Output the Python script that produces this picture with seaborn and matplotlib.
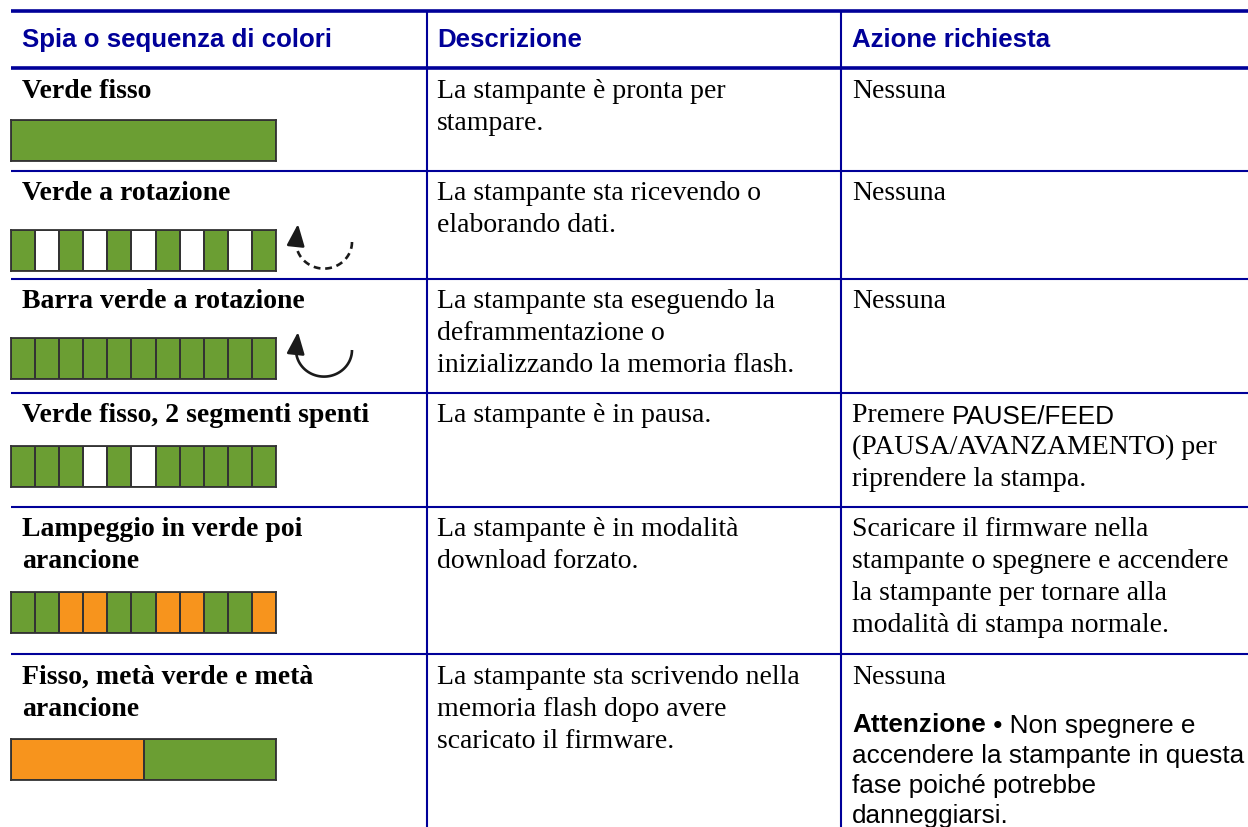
import numpy as np
import matplotlib
matplotlib.use("Agg")
import matplotlib.pyplot as plt
from matplotlib.colors import ListedColormap
import seaborn as sns

# table content
header_labels = ["Spia o sequenza di colori", "Descrizione", "Azione richiesta"]

spia_labels = [
    ["Verde fisso"],
    ["Verde a rotazione"],
    ["Barra verde a rotazione"],
    ["Verde fisso, 2 segmenti spenti"],
    ["Lampeggio in verde poi", "arancione"],
    ["Fisso, metà verde e metà", "arancione"],
]

descrizione = [
    ["La stampante è pronta per", "stampare."],
    ["La stampante sta ricevendo o", "elaborando dati."],
    ["La stampante sta eseguendo la", "deframmentazione o",
     "inizializzando la memoria flash."],
    ["La stampante è in pausa."],
    ["La stampante è in modalità", "download forzato."],
    ["La stampante sta scrivendo nella", "memoria flash dopo avere",
     "scaricato il firmware."],
]

# each line is a list of (text, style) pieces; serif / sans / sansbold
azione = [
    [[("Nessuna", "serif")]],
    [[("Nessuna", "serif")]],
    [[("Nessuna", "serif")]],
    [[("Premere ", "serif"), ("PAUSE/FEED", "sans")],
     [("(PAUSA/AVANZAMENTO) per", "serif")],
     [("riprendere la stampa.", "serif")]],
    [[("Scaricare il firmware nella", "serif")],
     [("stampante o spegnere e accendere", "serif")],
     [("la stampante per tornare alla", "serif")],
     [("modalità di stampa normale.", "serif")]],
    [[("Nessuna", "serif")]],
]
azione_note = [("Attenzione", "sansbold"), (" • Non spegnere e", "sans")]
azione_note_lines = ["accendere la stampante in questa", "fase poiché potrebbe",
                     "danneggiarsi."]

# LED segments: 0 = spento, 1 = verde, 2 = arancione
led_patterns = [
    [1],
    [1, 0, 1, 0, 1, 0, 1, 0, 1, 0, 1],
    [1, 1, 1, 1, 1, 1, 1, 1, 1, 1, 1],
    [1, 1, 1, 0, 1, 0, 1, 1, 1, 1, 1],
    [1, 1, 2, 2, 1, 1, 2, 2, 1, 1, 2],
    [2, 1],
]
rotation = [None, "dashed", "solid", None, None, None]

# layout (pixels)
W, H = 1248, 827
row_edges = [11, 68, 171, 279, 393, 507, 654]
col_x = [11, 427, 841]
text_x = [22, 437, 852]
bar_top = [120, 230, 338, 446, 592, 739]
bar_h = 41
bar_x0, bar_x1 = 11, 276
line_blue = "#000099"
green = "#6b9e33"
orange = "#f7941d"
edge = "#333333"

SERIF = "Liberation Serif"
SANS = "Liberation Sans"
FS_SERIF = 20
FS_SANS = 18.8
FS_HEAD = 18.6

sns.set_theme(style="white")
plt.rcParams["font.family"] = [SANS, "DejaVu Sans"]
plt.rcParams["text.color"] = "black"

fig = plt.figure(figsize=(W / 100, H / 100), dpi=100)
ax = fig.add_axes([0, 0, 1, 1])
ax.set_xlim(0, W)
ax.set_ylim(H, 0)
ax.axis("off")

# grid lines
ax.hlines([row_edges[0], row_edges[1]], col_x[0], W, color=line_blue, lw=2.6)
ax.hlines(row_edges[2:], col_x[0], W, color=line_blue, lw=1.5)
ax.vlines(col_x[1:], row_edges[0], H, color=line_blue, lw=1.5)

# header
for x, lab in zip(text_x, header_labels):
    ax.text(x, 47, lab, family=SANS, weight="bold", fontsize=FS_HEAD,
            color=line_blue, va="baseline")

styles = {
    "serif": dict(family=SERIF, fontsize=FS_SERIF),
    "sans": dict(family=SANS, fontsize=FS_SANS),
    "sansbold": dict(family=SANS, fontsize=FS_SANS, weight="bold"),
}


def draw_pieces(x, y, pieces):
    prev = None
    for txt, st in pieces:
        if prev is None:
            prev = ax.text(x, y, txt, va="baseline", color="black", **styles[st])
        else:
            prev = ax.annotate(txt, xy=(1, 0), xycoords=prev, va="bottom",
                               ha="left", color="black", **styles[st])


LS = 32
for i in range(len(spia_labels)):
    base = row_edges[i + 1] + 29.5
    for k, line in enumerate(spia_labels[i]):
        ax.text(text_x[0], base + k * LS, line, family=SERIF, weight="bold",
                fontsize=FS_SERIF, va="baseline", color="black")
    for k, line in enumerate(descrizione[i]):
        ax.text(text_x[1], base + k * LS, line, family=SERIF,
                fontsize=FS_SERIF, va="baseline", color="black")
    for k, pieces in enumerate(azione[i]):
        draw_pieces(text_x[2], base + k * LS, pieces)

# note in last row
note_base = row_edges[6] + 29.5 + 49
draw_pieces(text_x[2], note_base, azione_note)
for k, line in enumerate(azione_note_lines):
    ax.text(text_x[2], note_base + (k + 1) * 30, line, family=SANS,
            fontsize=FS_SANS, va="baseline", color="black")

# LED bars
cmap = ListedColormap(["white", green, orange])
for i, pat in enumerate(led_patterns):
    y0 = bar_top[i]
    bax = fig.add_axes([bar_x0 / W, 1 - (y0 + bar_h) / H,
                        (bar_x1 - bar_x0) / W, bar_h / H])
    sns.heatmap(np.array([pat]), ax=bax, cmap=cmap, vmin=-0.5, vmax=2.5,
                cbar=False, linewidths=1.1, linecolor=edge,
                xticklabels=False, yticklabels=False)
    for sp in bax.spines.values():
        sp.set_visible(True)
        sp.set_color(edge)
        sp.set_linewidth(1.3)

    # rotation arrow
    if rotation[i]:
        cx, cy, r = 324, y0 + 12, 28
        t = np.linspace(0, np.pi, 60)
        ls = (0, (2.6, 1.8)) if rotation[i] == "dashed" else "-"
        ax.plot(cx + r * np.cos(t), cy + r * np.sin(t) * 0.95, color="#1a1a1a",
                lw=1.9, ls=ls, solid_capstyle="butt")
        ax.annotate("", xy=(cx - r + 2, y0 - 6), xytext=(cx - r, cy + 1),
                    arrowprops=dict(arrowstyle="-|>,head_length=1.1,head_width=0.45",
                                    color="#1a1a1a", lw=1.9,
                                    ls="-", shrinkA=0, shrinkB=0))

fig.savefig("out.png", dpi=100)
